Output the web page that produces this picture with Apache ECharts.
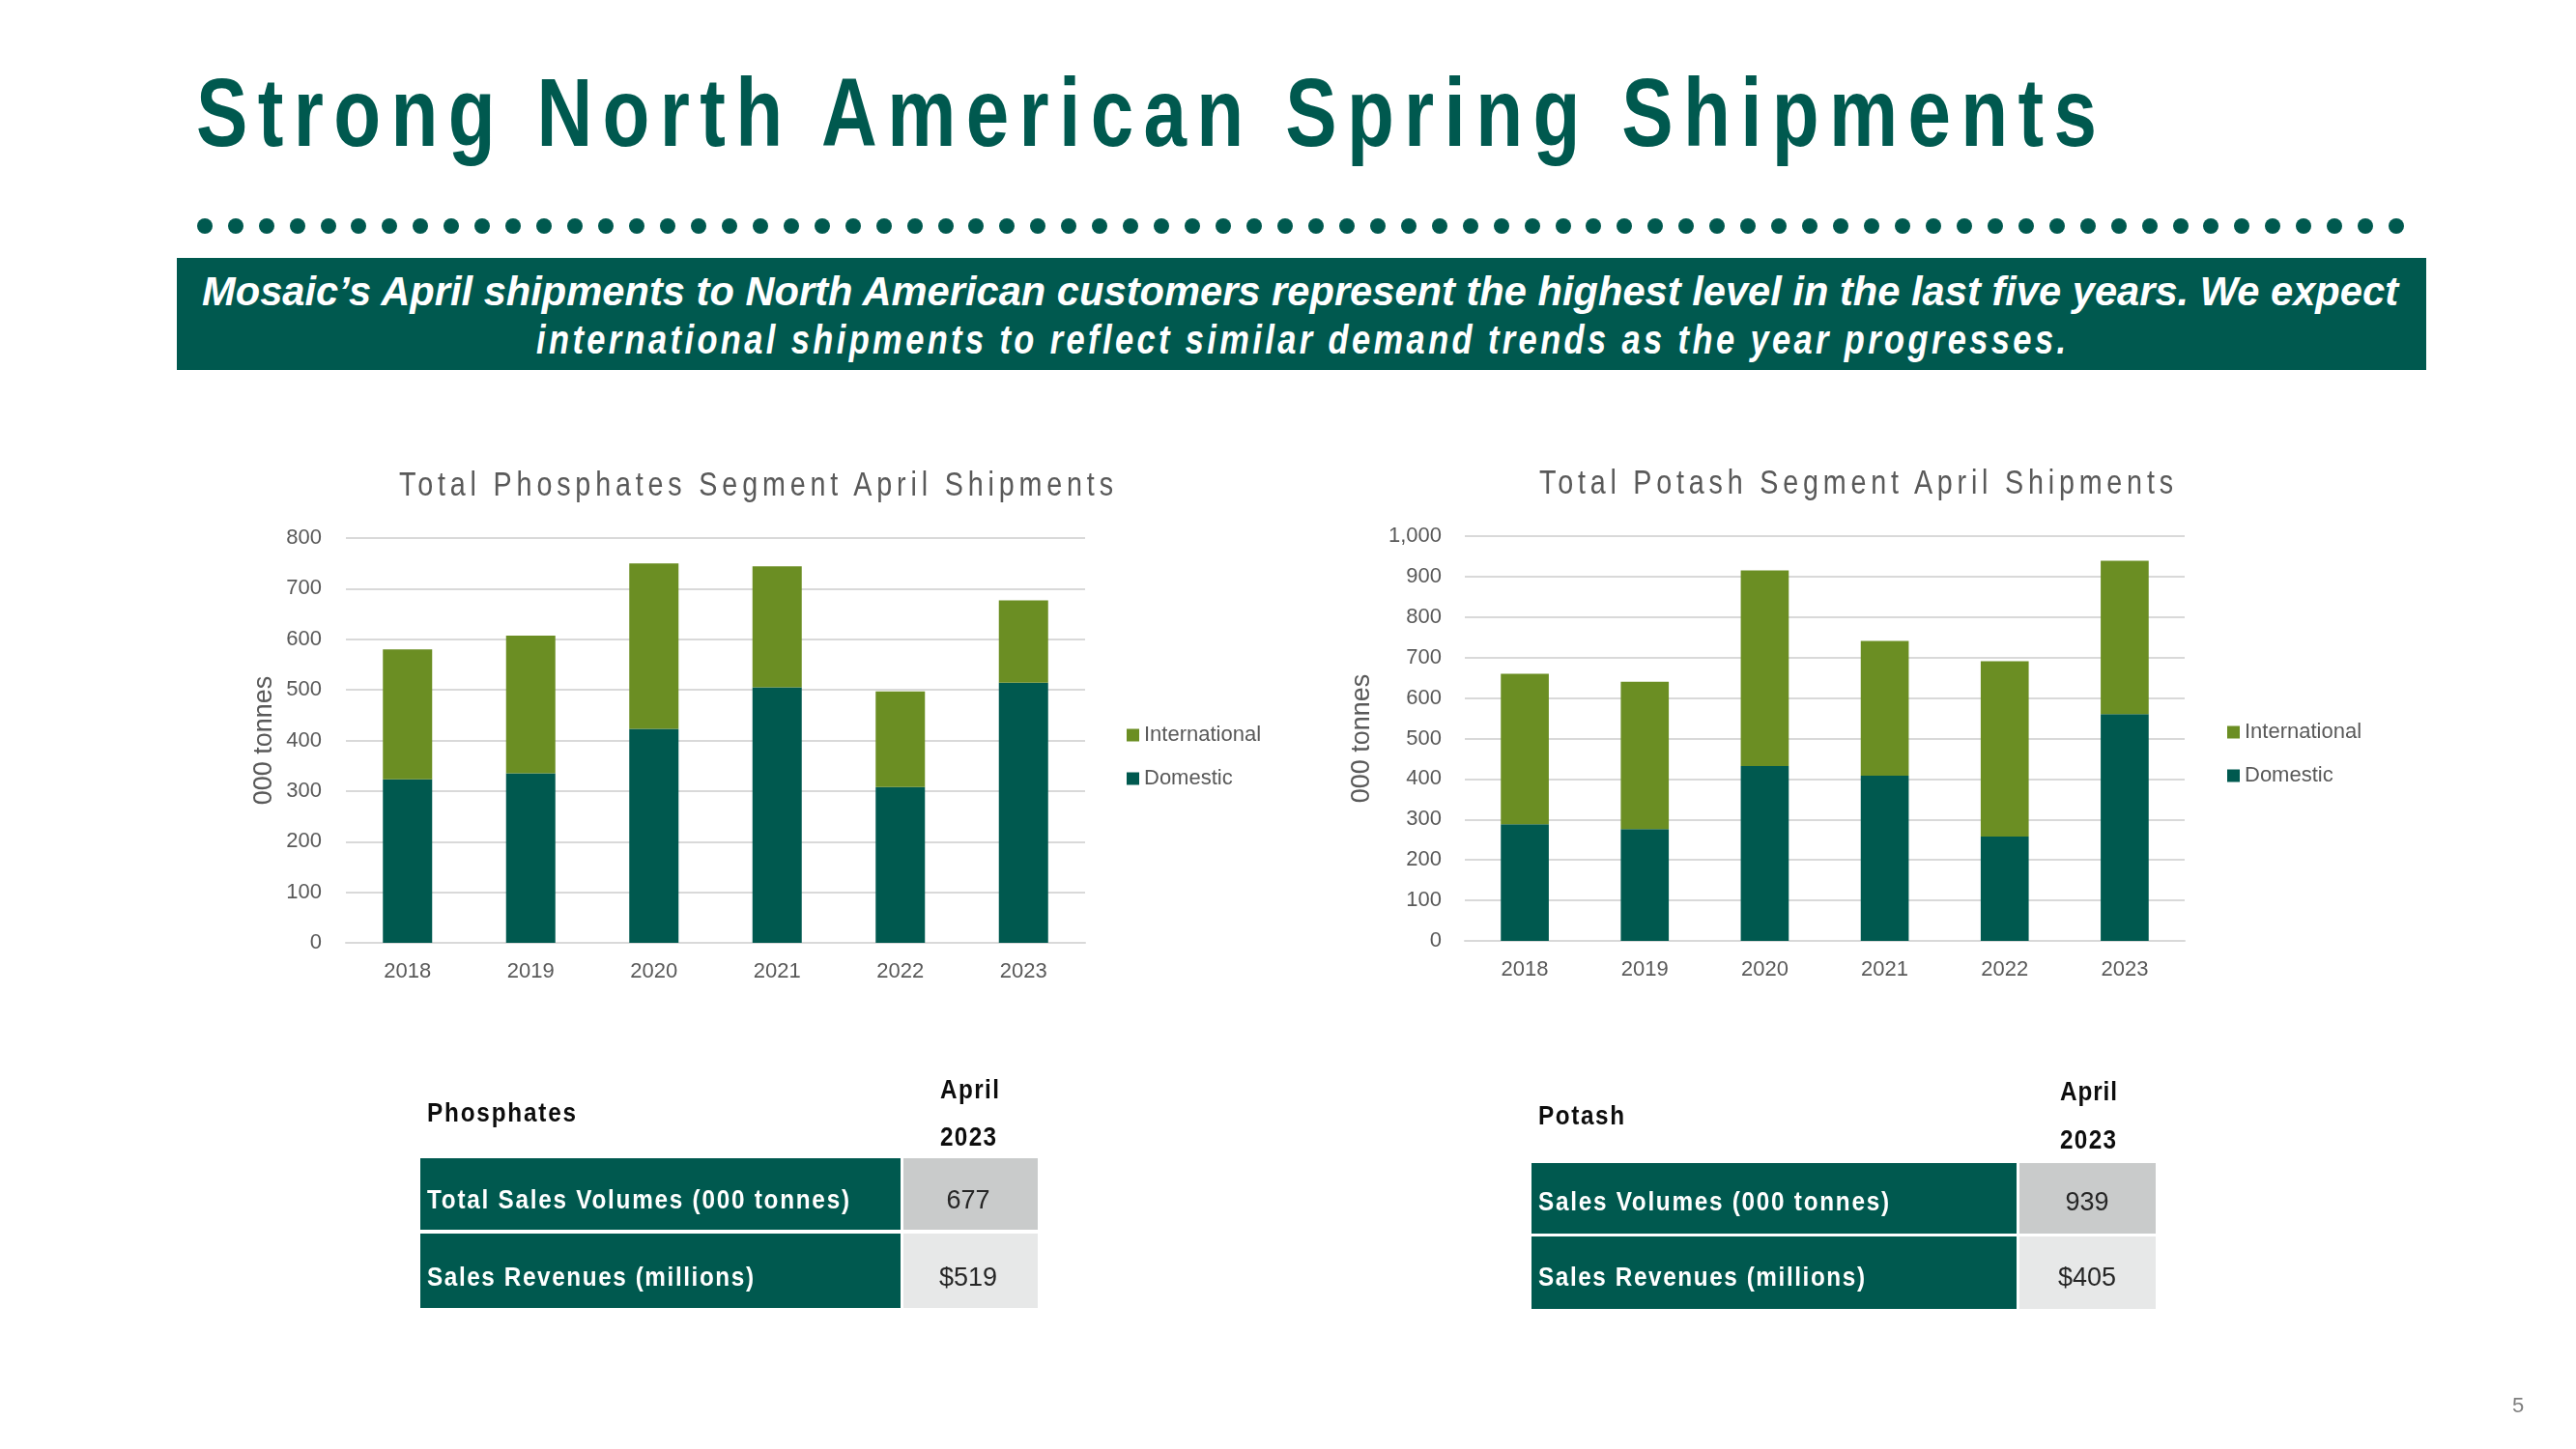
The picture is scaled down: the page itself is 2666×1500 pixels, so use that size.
<!DOCTYPE html>
<html>
<head>
<meta charset="utf-8">
<script src="https://cdn.jsdelivr.net/npm/echarts@6/dist/echarts.min.js"></script>
<style>
html, body { margin: 0; padding: 0; background: #fff; }
#page { position: relative; width: 2666px; height: 1500px; overflow: hidden; font-family: 'Liberation Sans', Arial, sans-serif; }
#chart { position: absolute; left: 0; top: 0; width: 2666px; height: 1500px; }
.t { position: absolute; white-space: nowrap; transform-origin: 0 0; }
.box { position: absolute; }
.dot { position: absolute; width: 16px; height: 16px; border-radius: 50%; background: #00594F; }
</style>
</head>
<body>
<div id="page">
  <div id="chart"></div>
</div>
<script>
// data
const years = ['2018', '2019', '2020', '2021', '2022', '2023']
const phosDomestic = [323, 335, 423, 505, 308, 514]
const phosInternational = [257, 272, 327, 239, 189, 163]
const potashDomestic = [288, 276, 432, 408, 258, 560]
const potashInternational = [372, 364, 483, 333, 433, 379]
const legendNames = ['International', 'Domestic']
const phosRows = ['Total Sales Volumes (000 tonnes)', 'Sales Revenues (millions)']
const phosValues = ['677', '$519']
const potashRows = ['Sales Volumes (000 tonnes)', 'Sales Revenues (millions)']
const potashValues = ['939', '$405']

const GREEN = '#00594F'
const OLIVE = '#6B8E23'
const GREY_TEXT = '#595959'
const GRID_LINE = '#D9D9D9'
const FONT = "'Liberation Sans', Arial, sans-serif"

const page = document.getElementById('page')

// text placed by baseline, stretched to the width seen on the slide
const putText = (txt, o) => {
  const el = document.createElement('div')
  el.className = 't'
  el.textContent = txt
  el.style.fontSize = o.size + 'px'
  el.style.lineHeight = o.size + 'px'
  el.style.fontWeight = o.bold ? 'bold' : 'normal'
  el.style.fontStyle = o.italic ? 'italic' : 'normal'
  el.style.color = o.color
  page.appendChild(el)
  const natural = el.getBoundingClientRect().width
  let sx = 1
  let ls = 0
  if (o.width) {
    if (o.squeeze) {
      sx = o.squeeze
      ls = (o.width / sx - natural) / (txt.length - 1)
    } else {
      sx = o.width / natural
    }
  }
  el.style.letterSpacing = ls + 'px'
  el.style.transform = 'scaleX(' + sx + ')'
  const w = o.width || natural
  const left = o.cx !== undefined ? o.cx - w / 2 : o.x
  el.style.left = left + 'px'
  el.style.top = (o.baseline - 0.8465 * o.size) + 'px'
  return el
}

const putBox = (x, y, w, h, color) => {
  const el = document.createElement('div')
  el.className = 'box'
  el.style.left = x + 'px'
  el.style.top = y + 'px'
  el.style.width = w + 'px'
  el.style.height = h + 'px'
  el.style.background = color
  page.appendChild(el)
}

// heading
putText('Strong North American Spring Shipments', { x: 203, width: 1967, baseline: 151, size: 100, bold: true, color: GREEN, squeeze: 0.8 })

// dotted rule
for (let i = 0; i < 72; i++) {
  const d = document.createElement('div')
  d.className = 'dot'
  d.style.left = (211.7 + i * 31.95 - 8) + 'px'
  d.style.top = (234 - 8) + 'px'
  page.appendChild(d)
}

// banner
putBox(183, 267, 2328, 116, GREEN)
putText('Mosaic\u2019s April shipments to North American customers represent the highest level in the last five years. We expect',
  { x: 209, width: 2273, baseline: 316.5, size: 42, bold: true, italic: true, color: '#fff' })
putText('international shipments to reflect similar demand trends as the year progresses.',
  { x: 555, width: 1583, baseline: 366.5, size: 42, bold: true, italic: true, color: '#fff', squeeze: 0.82 })

// chart titles
putText('Total Phosphates Segment April Shipments', { x: 413, width: 739, baseline: 513, size: 35, color: GREY_TEXT, squeeze: 0.82 })
putText('Total Potash Segment April Shipments', { x: 1593, width: 656, baseline: 511, size: 35, color: GREY_TEXT, squeeze: 0.82 })

// tables
putText('Phosphates', { x: 442, width: 154, baseline: 1161.7, size: 27, bold: true, color: '#0D0D0D', squeeze: 0.9 })
putText('April', { cx: 1003, width: 61, baseline: 1138.3, size: 27, bold: true, color: '#0D0D0D', squeeze: 0.9 })
putText('2023', { cx: 1002, width: 58, baseline: 1187.3, size: 27, bold: true, color: '#0D0D0D', squeeze: 0.9 })
putBox(435, 1199, 497, 74, GREEN)
putBox(435, 1277, 497, 77, GREEN)
putBox(935, 1199, 139, 74, '#C9CBCB')
putBox(935, 1277, 139, 77, '#E7E8E8')
putText(phosRows[0], { x: 442, width: 437, baseline: 1251.7, size: 27, bold: true, color: '#fff', squeeze: 0.9 })
putText(phosRows[1], { x: 442, width: 338, baseline: 1331.7, size: 27, bold: true, color: '#fff', squeeze: 0.9 })
putText(phosValues[0], { cx: 1002, baseline: 1251.7, size: 27, color: '#262626' })
putText(phosValues[1], { cx: 1002, baseline: 1331.7, size: 27, color: '#262626' })

putText('Potash', { x: 1592, width: 89, baseline: 1165, size: 27, bold: true, color: '#0D0D0D', squeeze: 0.9 })
putText('April', { cx: 2161, width: 59, baseline: 1140, size: 27, bold: true, color: '#0D0D0D', squeeze: 0.9 })
putText('2023', { cx: 2160.5, width: 58, baseline: 1190, size: 27, bold: true, color: '#0D0D0D', squeeze: 0.9 })
putBox(1585, 1204, 502, 73, GREEN)
putBox(1585, 1280, 502, 75, GREEN)
putBox(2090, 1204, 141, 73, '#C9CBCB')
putBox(2090, 1280, 141, 75, '#E7E8E8')
putText(potashRows[0], { x: 1592, width: 363, baseline: 1254, size: 27, bold: true, color: '#fff', squeeze: 0.9 })
putText(potashRows[1], { x: 1592, width: 338, baseline: 1332.3, size: 27, bold: true, color: '#fff', squeeze: 0.9 })
putText(potashValues[0], { cx: 2160, baseline: 1254, size: 27, color: '#262626' })
putText(potashValues[1], { cx: 2160, baseline: 1332.3, size: 27, color: '#262626' })

// page number
putText('5', { x: 2600, baseline: 1463, size: 22, color: '#7F7F7F' })

// charts
const chart = echarts.init(document.getElementById('chart'))

const labelStyle = { color: GREY_TEXT, fontSize: 22, fontFamily: FONT }

const makeX = (gridIndex) => ({
  type: 'category',
  gridIndex: gridIndex,
  data: years,
  axisLine: { show: true, lineStyle: { color: GRID_LINE, width: 2 } },
  axisTick: { show: false },
  axisLabel: { ...labelStyle, margin: 19 }
})

const makeY = (gridIndex, max, nameGap, margin) => ({
  type: 'value',
  gridIndex: gridIndex,
  min: 0,
  max: max,
  interval: 100,
  name: '000 tonnes',
  nameLocation: 'middle',
  nameGap: nameGap,
  nameTextStyle: { color: GREY_TEXT, fontSize: 27, fontFamily: FONT },
  axisLine: { show: false },
  axisTick: { show: false },
  axisLabel: { ...labelStyle, margin: margin, formatter: (v) => v.toLocaleString('en-US') },
  splitLine: { lineStyle: { color: GRID_LINE, width: 2 } }
})

const makeLegend = (left, top) => ({
  left: left,
  top: top,
  orient: 'vertical',
  padding: 0,
  data: legendNames,
  icon: 'rect',
  itemWidth: 13,
  itemHeight: 13,
  itemGap: 23,
  textStyle: { color: GREY_TEXT, fontSize: 22, lineHeight: 22, fontFamily: FONT }
})

const makeBar = (name, stack, idx, data, color) => ({
  name: name,
  type: 'bar',
  stack: stack,
  xAxisIndex: idx,
  yAxisIndex: idx,
  barWidth: '40%',
  data: data,
  itemStyle: { color: color }
})

const option = {
  animation: false,
  textStyle: { fontFamily: FONT },
  grid: [
    { left: 358, top: 557, width: 765, height: 419 },
    { left: 1516, top: 555, width: 745, height: 419 }
  ],
  xAxis: [makeX(0), makeX(1)],
  yAxis: [makeY(0, 800, 71, 25), makeY(1, 1000, 93, 24)],
  legend: [makeLegend(1166, 750), makeLegend(2305, 747)],
  series: [
    makeBar('Domestic', 'phos', 0, phosDomestic, GREEN),
    makeBar('International', 'phos', 0, phosInternational, OLIVE),
    makeBar('Domestic', 'potash', 1, potashDomestic, GREEN),
    makeBar('International', 'potash', 1, potashInternational, OLIVE)
  ]
}

chart.setOption(option)
</script>
</body>
</html>
